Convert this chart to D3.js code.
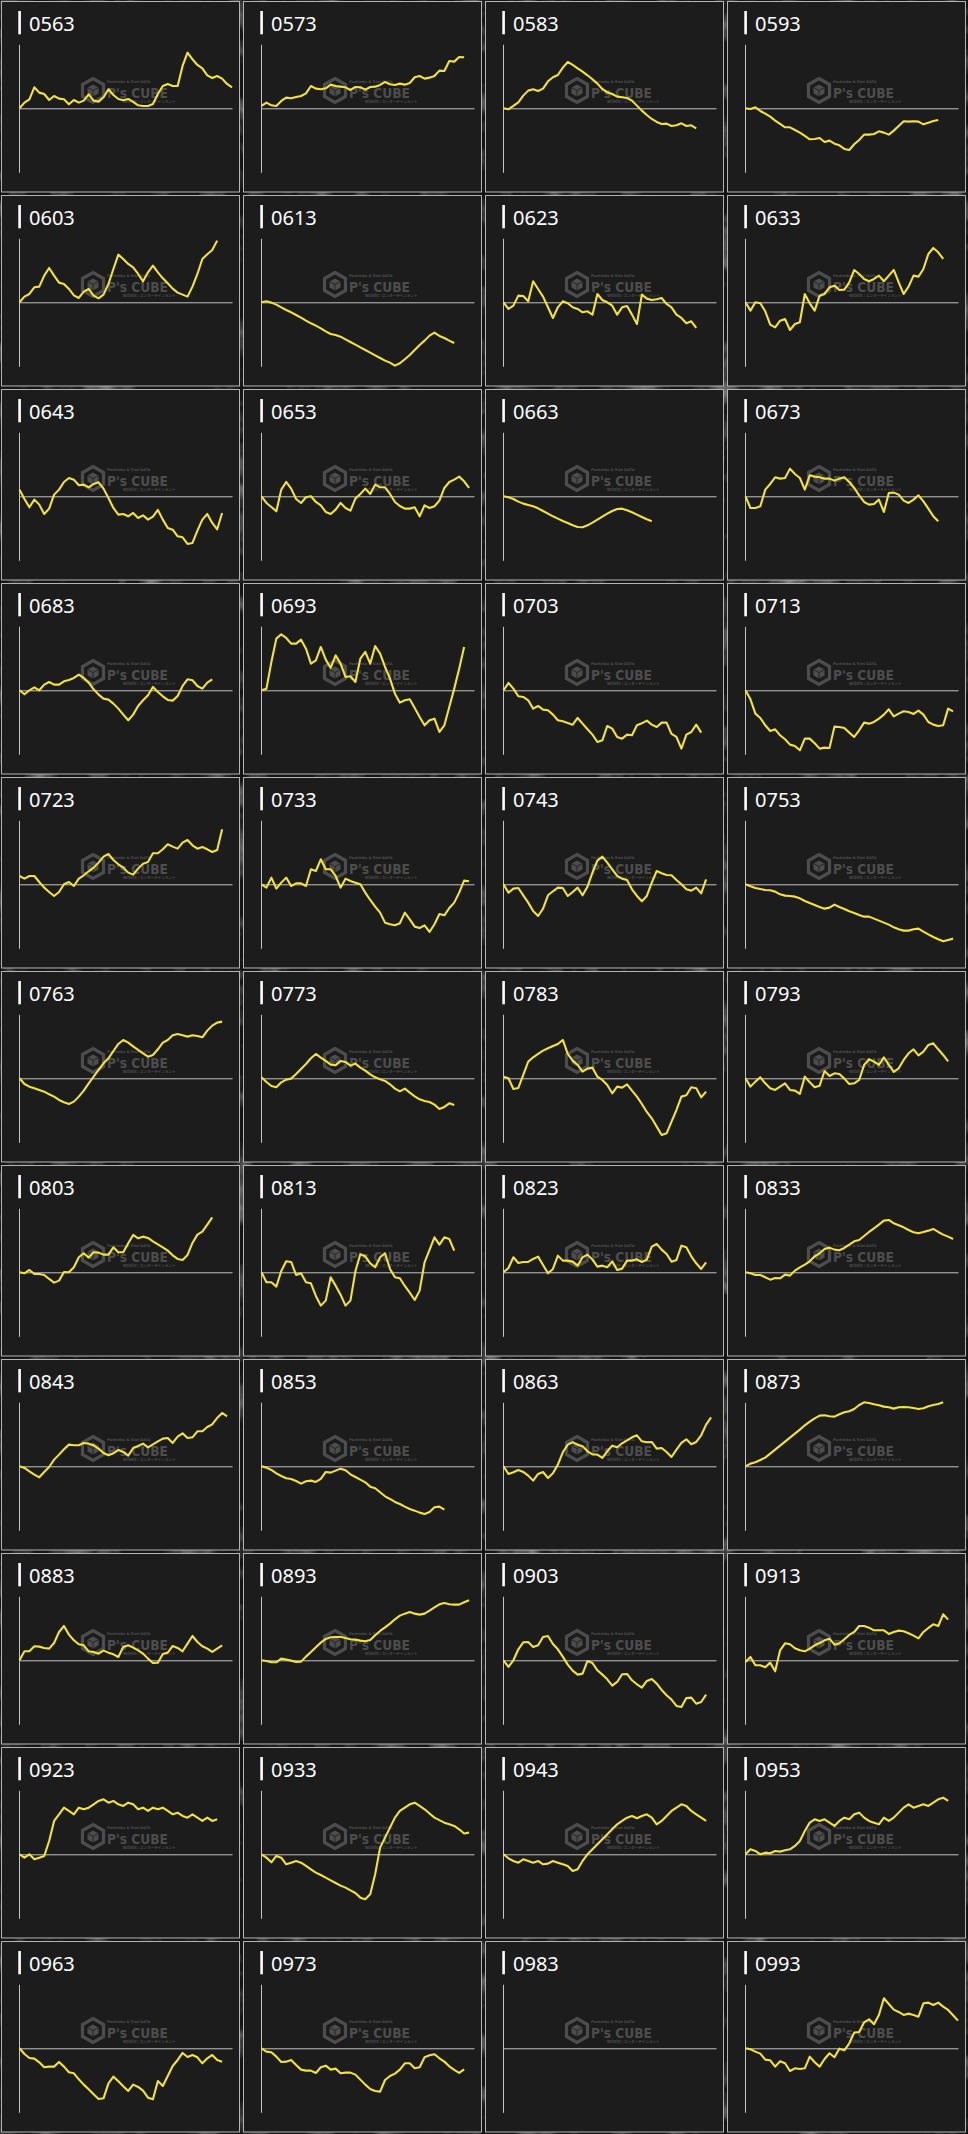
<!DOCTYPE html>
<html><head><meta charset="utf-8">
<script src="https://cdn.jsdelivr.net/npm/d3@7"></script>
<style>html,body{margin:0;padding:0;background:#161616;}svg{display:block}</style>
</head><body>
<svg id="chart" width="968" height="2134"></svg>
<script>
// machine numbers (panel titles)
const machines = ["0563","0573","0583","0593","0603","0613","0623","0633","0643","0653","0663","0673",
"0683","0693","0703","0713","0723","0733","0743","0753","0763","0773","0783","0793",
"0803","0813","0823","0833","0843","0853","0863","0873","0883","0893","0903","0913",
"0923","0933","0943","0953","0963","0973","0983","0993"];

// 差枚 series, one value every 200 games
const s0563=[0,340,540,1260,940,860,500,740,580,540,240,500,340,460,840,460,400,660,1140,800,560,480,560,380,180,140,140,260,860,1340,1460,1340,1340,2540,3340,2940,2600,2400,1980,1820,1940,1780,1460,1260];
const s0573=[140,340,180,140,440,640,600,680,740,900,1340,1180,1140,1200,1420,1340,1300,1260,1100,1280,1260,1120,1280,1300,1400,1580,1440,1400,1480,1420,1520,1860,1940,1780,1840,1940,2260,2240,2840,2800,3080,3060];
const s0583=[0,-60,140,360,760,1060,1140,1040,1180,1620,1860,2000,2440,2780,2600,2400,2200,1980,1740,1480,1160,960,860,700,660,620,460,160,-140,-400,-640,-820,-940,-920,-1060,-1020,-900,-1060,-1020,-1200];
const s0593=[0,-40,60,-160,-320,-500,-740,-940,-1140,-1140,-1300,-1460,-1660,-1860,-1840,-1780,-2020,-1940,-2120,-2220,-2440,-2500,-2160,-1900,-1580,-1580,-1540,-1380,-1460,-1580,-1340,-1060,-780,-800,-780,-800,-960,-860,-760,-700];
const s0603=[0,340,500,900,940,1600,2060,1600,1180,1100,800,420,260,640,800,400,240,460,1100,2000,2860,2600,2300,2100,1700,1260,1800,2200,1800,1440,1140,820,580,460,340,940,1700,2600,2880,3140,3700];
const s0613=[0,60,-20,-140,-300,-460,-600,-760,-920,-1100,-1260,-1400,-1560,-1740,-1900,-1960,-2060,-2220,-2380,-2540,-2700,-2860,-3020,-3180,-3340,-3500,-3620,-3800,-3660,-3420,-3160,-2860,-2560,-2300,-2000,-1820,-2020,-2140,-2300,-2440];
const s0623=[0,-400,-200,400,380,60,1260,800,340,-300,-940,-300,60,-60,-300,-400,-600,-540,-740,500,140,0,-200,-740,-300,-220,-740,-1300,460,220,140,180,260,-100,-300,-740,-940,-1260,-1140,-1540];
const s0633=[0,-500,0,-60,-540,-1340,-1500,-1100,-1000,-1660,-1300,-1200,500,-60,-500,400,500,900,1000,740,760,1200,1940,1700,1400,1260,1400,1600,1260,1600,1940,1200,500,940,1600,1540,2000,2900,3260,3000,2600];
const s0643=[400,-160,-660,-200,-500,-1060,-740,100,400,860,1100,1000,660,700,540,740,840,460,-100,-700,-1100,-1060,-1200,-1000,-1300,-1140,-1400,-1220,-820,-1400,-1900,-2000,-2400,-2460,-2860,-2800,-2060,-1400,-1060,-1600,-1980,-1000];
const s0653=[0,-400,-640,-900,400,860,460,-160,-400,-60,0,-340,-540,-940,-1060,-800,-400,-700,-860,-140,140,460,140,700,540,540,140,-340,-580,-740,-740,-660,-1200,-540,-700,-600,-260,500,860,1000,1180,900,500];
const s0663=[0,-60,-160,-320,-440,-520,-600,-720,-880,-1040,-1200,-1340,-1480,-1600,-1740,-1840,-1860,-1740,-1580,-1400,-1220,-1040,-880,-760,-740,-840,-960,-1100,-1240,-1380,-1500];
const s0673=[0,-700,-700,-600,400,740,1140,1060,1100,1660,1340,1100,400,1260,1180,1140,1060,1060,940,1060,1140,860,500,60,-340,-500,-460,-200,-940,200,220,100,-260,-400,-200,60,-300,-740,-1200,-1500];
const s0683=[0,-240,0,180,0,340,500,340,340,540,620,740,940,740,460,60,-260,-500,-560,-800,-1100,-1460,-1800,-1460,-940,-600,-300,200,-100,-360,-580,-620,-340,260,660,600,260,100,460,660];
const s0693=[0,100,1700,3100,3360,3140,2800,2800,3040,2500,1600,1800,2600,1840,1340,2100,1600,800,840,500,1900,2300,1600,2660,2200,1400,700,-200,-740,-600,-540,-1060,-1600,-2100,-1800,-1700,-2500,-2100,-1000,100,1300,2600];
const s0703=[0,440,100,-360,-400,-600,-1100,-940,-1160,-1200,-1460,-1800,-1860,-1960,-2060,-1660,-2000,-2340,-2660,-3100,-3000,-2140,-2300,-2800,-2900,-2660,-2700,-2100,-1980,-1820,-2060,-2200,-1940,-1940,-2620,-2800,-3500,-2660,-2500,-2060,-2540];
const s0713=[0,-540,-1400,-1660,-2100,-2440,-2340,-2700,-2940,-3260,-3340,-3600,-2900,-2900,-3180,-3500,-3440,-3460,-2180,-2200,-2260,-2540,-2800,-2400,-1940,-2000,-1900,-1700,-1460,-1140,-1560,-1400,-1260,-1300,-1420,-1220,-1460,-1900,-2060,-2140,-2100,-1100,-1260];
const s0723=[500,340,500,500,140,-200,-460,-700,-460,0,140,-100,340,540,780,1000,1300,1660,1820,1460,1200,1000,700,580,940,1240,1340,1860,1860,2100,2400,2260,2140,2500,2660,2340,2140,2240,2100,1940,2060,3300];
const s0733=[0,-200,400,-260,100,400,-100,60,60,-100,900,800,1500,900,900,500,-200,340,200,100,0,-500,-940,-1340,-1700,-2300,-2400,-2460,-2340,-1700,-2100,-2540,-2620,-2460,-2860,-2400,-1780,-1860,-1420,-1100,-500,220,180];
const s0743=[0,-500,-260,-220,-660,-1100,-1600,-1900,-1460,-660,-420,-200,-220,-700,-460,-200,-660,-140,700,1420,1660,1300,900,500,340,260,-300,-700,-1020,-700,100,800,660,560,540,260,0,-300,-380,-200,-540,300];
const s0753=[0,-120,-220,-280,-340,-360,-440,-600,-680,-700,-740,-840,-1000,-1120,-1240,-1360,-1460,-1400,-1220,-1360,-1480,-1620,-1720,-1840,-1940,-1940,-2060,-2180,-2300,-2420,-2580,-2700,-2780,-2780,-2700,-2660,-2840,-3000,-3160,-3300,-3420,-3340,-3260];
const s0763=[0,-340,-500,-600,-700,-800,-960,-1100,-1300,-1440,-1540,-1400,-1100,-740,-300,100,500,900,1200,1640,2060,2300,2140,1920,1700,1500,1300,1400,1740,2140,2300,2580,2660,2580,2500,2580,2540,2460,2860,3160,3340,3400];
const s0773=[60,-220,-460,-540,-240,-80,-20,260,560,860,1200,1460,1240,1040,820,780,1040,980,760,880,640,460,240,60,-60,-160,-360,-620,-780,-620,-860,-1080,-1260,-1360,-1420,-1580,-1840,-1720,-1500,-1600];
const s0783=[100,0,-640,-580,200,1000,1260,1460,1660,1800,1940,2060,2300,1460,1060,800,400,580,640,100,-100,-400,-900,-500,-560,-360,-740,-1100,-1540,-2020,-2400,-2900,-3400,-3300,-2600,-1900,-1100,-1020,-540,-600,-1140,-800];
const s0793=[0,-500,-200,60,-300,-600,-700,-500,-300,-700,-740,-940,100,-240,-540,-440,440,140,300,260,-20,-340,-300,-100,800,1140,1000,800,1260,800,380,600,1100,1500,1740,1380,1600,2000,2100,1740,1400,1020];
const s0803=[0,-60,140,-100,-100,-160,-400,-620,-500,20,0,300,900,1140,880,1200,1180,1060,1060,1500,1200,1200,1740,2240,2040,2140,2060,1860,1680,1500,1300,1020,800,740,1040,1760,2260,2440,2860,3300];
const s0813=[0,-600,-600,-860,80,660,620,-160,-60,-600,-660,-1420,-2000,-1700,-300,-800,-1340,-2000,-1700,60,1080,960,540,300,900,1140,200,-300,-360,-820,-1220,-1660,-1100,600,1340,2100,1660,2100,2000,1300];
const s0823=[0,260,900,560,620,620,800,940,440,-60,200,1000,700,700,640,400,900,1060,760,340,400,300,660,140,220,700,700,780,620,760,1540,1700,1360,1100,640,740,1600,1500,960,540,200,600];
const s0833=[0,-60,-160,-160,-300,-440,-340,-360,-140,-200,100,300,460,660,960,1140,1400,1480,1360,1320,1460,1660,1860,1940,2180,2420,2640,2860,3100,3140,2940,2820,2700,2540,2400,2340,2420,2500,2600,2420,2260,2140,2000];
const s0843=[0,-100,-300,-500,-660,-340,-40,400,700,1020,1300,1260,1260,1400,1360,1260,1060,800,660,780,980,860,640,1100,1220,1360,1140,1320,1500,1660,1700,1400,1780,1980,1700,1740,2100,2100,2360,2520,2900,3200,3000];
const s0853=[0,-80,-220,-420,-580,-720,-760,-880,-1040,-900,-860,-940,-760,-340,-380,-260,-140,-240,-480,-640,-800,-960,-1220,-1320,-1560,-1800,-1960,-2140,-2260,-2420,-2560,-2660,-2780,-2860,-2740,-2460,-2420,-2600];
const s0863=[0,-460,-360,-220,-340,-560,-860,-460,-340,-700,-420,100,840,1300,1440,1300,1200,900,720,700,500,900,1240,1140,1380,1560,1740,1860,1500,1440,1460,1060,1100,860,560,1000,1400,1620,1320,1460,1860,2500,2940];
const s0873=[0,160,240,380,520,760,1000,1240,1480,1720,1960,2200,2460,2680,2880,3040,3060,3000,2980,3120,3240,3300,3440,3680,3840,3800,3720,3660,3580,3540,3460,3540,3560,3540,3500,3440,3480,3600,3680,3740,3840];
const s0883=[0,540,540,840,820,740,700,1040,1700,2060,1540,1200,960,900,540,500,400,580,460,360,200,800,900,760,600,400,100,-160,-140,380,460,860,740,540,1000,1460,1100,840,700,500,700,900];
const s0893=[0,-40,-120,-120,100,40,-20,-100,-80,220,500,780,1060,1280,1380,1400,1400,1340,1260,1240,1180,1140,1220,1500,1760,1980,2200,2460,2680,2800,2900,2800,2740,2800,2980,3180,3360,3440,3360,3340,3340,3480,3600];
const s0903=[0,-400,0,660,1080,1100,800,900,1400,1460,980,660,220,-260,-620,-860,-800,-40,-160,-600,-860,-1140,-1520,-1300,-840,-820,-1200,-1440,-1640,-1240,-1120,-1400,-1780,-2100,-2360,-2740,-2800,-2260,-2240,-2600,-2500,-2060];
const s0913=[-100,200,-300,-300,-420,-140,-660,600,1020,960,720,600,540,700,900,1040,1200,1300,940,1020,1260,1520,1700,2060,2060,1960,1800,1800,1800,1580,1700,1780,1740,1620,1480,1320,1700,1940,2160,2060,2760,2440];
const s0923=[0,-200,0,-300,-200,-100,800,2000,2400,2800,2600,2400,2800,2700,2800,3000,3200,3300,3100,3200,3000,2900,3100,3000,2700,2800,2600,2800,2700,2800,2600,2400,2500,2300,2200,2400,2200,2000,2200,2000,2100];
const s0933=[0,-200,-480,-100,-200,-600,-500,-400,-500,-700,-900,-1100,-1240,-1400,-1560,-1720,-1880,-2000,-2160,-2320,-2600,-2700,-2400,-1200,400,1000,1600,2200,2600,2800,3000,3100,2900,2700,2450,2200,2050,1900,1800,1700,1500,1250,1300];
const s0943=[0,-240,-400,-500,-300,-400,-500,-400,-600,-560,-400,-500,-600,-700,-1000,-900,-400,0,300,600,900,1200,1500,1800,2000,2200,2300,2160,2300,2400,2200,1800,2000,2300,2600,2800,3000,2900,2600,2400,2200,2000];
const s0953=[0,300,200,0,100,60,200,160,240,300,500,800,1400,1900,2100,2000,2100,1900,1700,2000,2200,2100,2400,2500,2200,2000,1900,1800,2200,2000,2200,2500,2800,3000,2800,2900,3000,2900,3100,3300,3400,3200];
const s0963=[0,-340,-580,-620,-840,-1140,-1100,-1100,-820,-1100,-1440,-1500,-1860,-2180,-2460,-2760,-3040,-3000,-2100,-1700,-1980,-2280,-2560,-2180,-2320,-2540,-2960,-3060,-1960,-2260,-1660,-1060,-700,-280,-520,-400,-540,-900,-600,-400,-700,-800];
const s0973=[0,-200,-240,-500,-820,-800,-700,-1000,-1280,-1340,-1340,-1480,-1140,-1040,-1280,-1220,-1500,-1460,-1460,-1580,-1880,-2180,-2440,-2560,-2600,-1900,-1660,-1520,-1280,-900,-900,-1200,-1140,-540,-420,-360,-600,-800,-1080,-1300,-1480,-1260];
const s0983=[];
const s0993=[0,-60,-200,-320,-680,-720,-1100,-780,-900,-1360,-1200,-1240,-1200,-500,-840,-1100,-640,-300,-540,-20,-120,300,940,980,1560,1740,1440,2000,3000,2660,2320,2180,2000,2080,2000,1900,2700,2740,2600,2740,2500,2300,1980,1660];

const seriesList=[s0563,s0573,s0583,s0593,s0603,s0613,s0623,s0633,s0643,s0653,s0663,s0673,
s0683,s0693,s0703,s0713,s0723,s0733,s0743,s0753,s0763,s0773,s0783,s0793,
s0803,s0813,s0823,s0833,s0843,s0853,s0863,s0873,s0883,s0893,s0903,s0913,
s0923,s0933,s0943,s0953,s0963,s0973,s0983,s0993];

const GAME_STEP=200, GAME_MAX=8600, Y_LIMIT=3840;
const COLS=4, CELL_W=242, CELL_H=194;

const svg=d3.select("#chart");
const defs=svg.append("defs");
const f=defs.append("filter").attr("id","marble").attr("x",0).attr("y",0).attr("width","100%").attr("height","100%");
f.append("feTurbulence").attr("type","fractalNoise").attr("baseFrequency","0.035").attr("numOctaves",3).attr("seed",7);
f.append("feColorMatrix").attr("type","matrix").attr("values","0 0 0 0 0.42  0 0 0 0 0.42  0 0 0 0 0.42  1.6 0 0 0 -0.75");
svg.append("rect").attr("width",968).attr("height",2134).attr("fill","#141414");
svg.append("rect").attr("width",968).attr("height",2134).attr("filter","url(#marble)");

const x=d3.scaleLinear().domain([0,GAME_MAX]).range([19.5,232]);
const y=d3.scaleLinear().domain([-Y_LIMIT,Y_LIMIT]).range([172.3,44.3]);
const line=d3.line().x((d,i)=>x(i*GAME_STEP)).y(d=>y(d));

machines.forEach((m,idx)=>{
  const col=idx%COLS,row=Math.floor(idx/COLS);
  const g=svg.append("g").attr("transform",`translate(${col*CELL_W},${row*CELL_H})`);
  g.append("rect").attr("x",1.5).attr("y",1.5).attr("width",238).attr("height",190.5)
    .attr("fill","#1c1c1c").attr("stroke","#b4b4b4").attr("stroke-width",1);
  // title
  g.append("rect").attr("x",18.3).attr("y",11).attr("width",2.6).attr("height",23.3).attr("fill","#fff");
  g.append("text").attr("x",29).attr("y",30.5).attr("fill","#fff")
    .style("font-family","'Noto Sans',sans-serif").style("font-size","20px").text(m);
  // watermark
  const wm=g.append("g").attr("fill","#4d4d4d");
  wm.append("path").attr("d","M93,78.5 L103.5,84.5 L103.5,96.5 L93,102.5 L82.5,96.5 L82.5,84.5 Z")
    .attr("fill","none").attr("stroke","#4d4d4d").attr("stroke-width",3.2);
  wm.append("path").attr("d","M93,84.5 L98.5,87.5 L98.5,93.5 L93,96.5 L87.5,93.5 L87.5,87.5 Z").attr("fill","#4d4d4d");
  wm.append("path").attr("d","M87.5,87.5 L93,90.5 L98.5,87.5 M93,90.5 L93,96.5").attr("fill","none").attr("stroke","#1c1c1c").attr("stroke-width",0.8);
  wm.append("text").attr("x",107).attr("y",97.5).style("font-family","'DejaVu Sans',sans-serif")
    .style("font-weight","bold").style("font-size","14.5px").attr("textLength",61).attr("lengthAdjust","spacingAndGlyphs").text("P's CUBE");
  wm.append("text").attr("x",107).attr("y",83).style("font-family","'DejaVu Sans',sans-serif")
    .style("font-size","3.6px").style("font-weight","bold").text("Pachinko & Slot DATA");
  wm.append("text").attr("x",123).attr("y",102.5).style("font-family","'Noto Sans CJK JP',sans-serif")
    .style("font-size","3.6px").style("font-weight","bold").text("website / エンターテインメント");
  // axes
  const ya=g.append("g").attr("transform","translate(19,0)")
    .call(d3.axisLeft(y).tickValues([]).tickSizeOuter(0));
  const xa=g.append("g").attr("transform",`translate(0,${y(0)})`)
    .call(d3.axisBottom(x).tickValues([]).tickSizeOuter(0));
  [ya,xa].forEach(a=>a.select(".domain").attr("stroke","#c4c4c4").attr("stroke-width",1));
  // series line
  const data=seriesList[idx];
  if(data.length){
    g.append("path").datum(data).attr("d",line).attr("fill","none")
      .attr("stroke","#f2e23c").attr("stroke-width",2.1).attr("stroke-linejoin","round");
  }
});
</script>
</body></html>
